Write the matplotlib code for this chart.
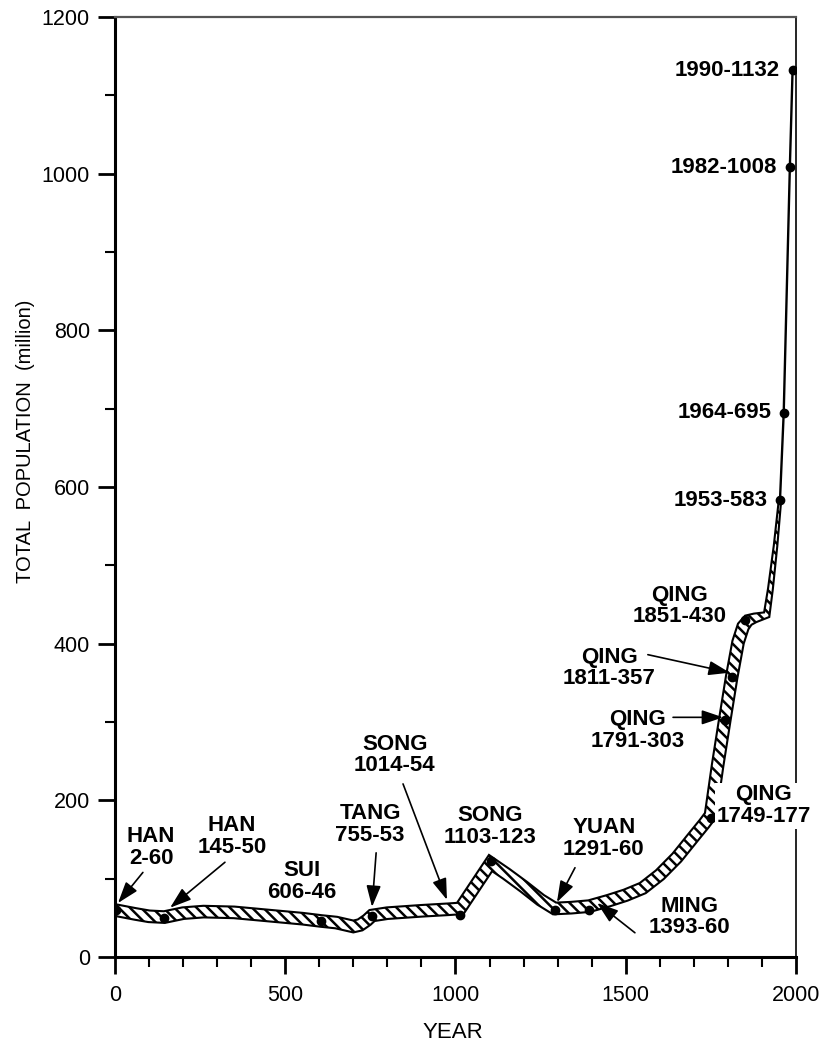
import numpy as np
import matplotlib
matplotlib.use('Agg')
import matplotlib.pyplot as plt

plt.rcParams['font.family'] = 'Liberation Sans'
plt.rcParams['hatch.linewidth'] = 1.8

# centre line of the hatched band
band_years = [0, 60, 100, 145, 200, 260, 350, 450, 550, 606, 650, 680, 700, 720, 740,
              755, 800, 900, 980, 1014, 1060, 1103, 1150, 1200, 1250, 1291, 1340, 1393,
              1450, 1500, 1550, 1600, 1650, 1700, 1730, 1749, 1770, 1791, 1811, 1830,
              1845, 1860, 1880, 1914, 1925, 1940, 1953]
band_pop = [60, 55, 52, 51, 56, 58, 57, 53, 49, 46, 44, 41, 39, 41, 47,
            53, 56, 59, 61, 62, 92, 120, 106, 90, 73, 62, 63, 65,
            72, 79, 88, 105, 127, 154, 170, 181, 245, 303, 357, 402,
            422, 430, 433, 437, 470, 525, 583]

# census / estimate points (year, million)
point_years = [2, 145, 606, 755, 1014, 1103, 1291, 1393, 1749, 1791, 1811, 1851,
               1953, 1964, 1982, 1990]
point_pop = [60, 50, 46, 53, 54, 123, 60, 60, 177, 303, 357, 430,
             583, 695, 1008, 1132]

dynasty_labels = ['HAN\n2-60', 'HAN\n145-50', 'SUI\n606-46', 'TANG\n755-53',
                  'SONG\n1014-54', 'SONG\n1103-123', 'YUAN\n1291-60', 'MING\n1393-60',
                  'QING\n1749-177', 'QING\n1791-303', 'QING\n1811-357', 'QING\n1851-430']
modern_years = [1953, 1964, 1982, 1990]
modern_pop = [583, 695, 1008, 1132]

# layout of the labels and arrows
label_pos = [(106, 140), (344, 154), (549, 96), (749, 169), (822, 258), (1101, 167),
             (1436, 151), (1686, 51), (1906, 193), (1536, 289), (1451, 369), (1659, 448)]
arrows = [((82, 108), (9, 69)), ((323, 121), (162, 63)), ((767, 133), (755, 64)),
          ((846, 221), (975, 73)), ((1351, 114), (1298, 70)), ((1527, 31), (1416, 69)),
          ((1639, 306), (1786, 306)), ((1565, 386), (1806, 363))]

fig = plt.figure(figsize=(8.2, 10.44), dpi=100)
ax = fig.add_axes([0.1402, 0.0833, 0.8305, 0.9004])
ax.set_xlim(0, 2000)
ax.set_ylim(0, 1200)

# hatched band with constant thickness in pixels
pts = ax.transData.transform(np.column_stack([band_years, band_pop]))
seg = np.diff(pts, axis=0)
seg = seg / np.linalg.norm(seg, axis=1)[:, None]
tan = np.vstack([seg[0], seg[:-1] + seg[1:], seg[-1]])
tan = tan / np.linalg.norm(tan, axis=1)[:, None]
nrm = np.column_stack([-tan[:, 1], tan[:, 0]])
segn = np.column_stack([-seg[:, 1], seg[:, 0]])
cosv = np.ones(len(pts))
cosv[1:-1] = np.abs(np.sum(nrm[1:-1] * segn[1:], axis=1))
scale = 1.0 / np.maximum(cosv, 0.5)
hw = np.interp(band_years, [1850, 1900, 1953], [5.8, 3.5, 1.2]) * scale
upper = pts + nrm * hw[:, None]
lower = pts - nrm * hw[:, None]
poly = ax.transData.inverted().transform(np.vstack([upper, lower[::-1]]))
ax.fill(poly[:, 0], poly[:, 1], facecolor='white', edgecolor='black',
        hatch='\\\\\\', lw=1.5, zorder=2)

ax.plot(modern_years, modern_pop, color='black', lw=1.7, zorder=3)
ax.plot(point_years, point_pop, 'o', ms=6, color='black', zorder=4)

for lab, (tx, ty) in zip(dynasty_labels, label_pos):
    bg = dict(facecolor='white', edgecolor='none', pad=1) if lab.endswith('177') else None
    ax.text(tx, ty, lab, ha='center', va='center', fontsize=16, fontweight='bold',
            linespacing=1.05, bbox=bg, zorder=5)

for tail, head in arrows:
    ax.annotate('', xy=head, xytext=tail,
                arrowprops=dict(arrowstyle='-|>,head_length=0.65,head_width=0.22',
                                color='black', lw=1.2, mutation_scale=20,
                                shrinkA=0, shrinkB=0), zorder=5)

for yr, p in zip(modern_years, modern_pop):
    ax.annotate(f'{yr}-{p}', xy=(yr, p), xytext=(-9, 0), textcoords='offset points',
                ha='right', va='center', fontsize=16, fontweight='bold')

ax.set_xticks([0, 500, 1000, 1500, 2000])
ax.set_xticks(np.arange(0, 2001, 100), minor=True)
ax.set_yticks(np.arange(0, 1201, 200))
ax.set_yticks(np.arange(0, 1201, 100), minor=True)
ax.tick_params(which='major', direction='out', length=12, width=2, labelsize=15.5)
ax.tick_params(axis='x', which='major', pad=8)
ax.tick_params(axis='y', which='major', pad=6)
ax.tick_params(which='minor', direction='out', length=7, width=1.5)

ax.spines['left'].set_linewidth(2.2)
ax.spines['bottom'].set_linewidth(2.2)
ax.spines['right'].set_linewidth(1.2)
ax.spines['top'].set_linewidth(1.6)
ax.spines['top'].set_color('#555555')

ax.set_xlabel('YEAR', fontsize=16, va='center')
ax.xaxis.set_label_coords(0.496, -0.08)
ax.set_ylabel('TOTAL  POPULATION  (million)', fontsize=14.5, va='center')
ax.yaxis.set_label_coords(-0.132, 0.549)

fig.savefig('out.png', dpi=100)
